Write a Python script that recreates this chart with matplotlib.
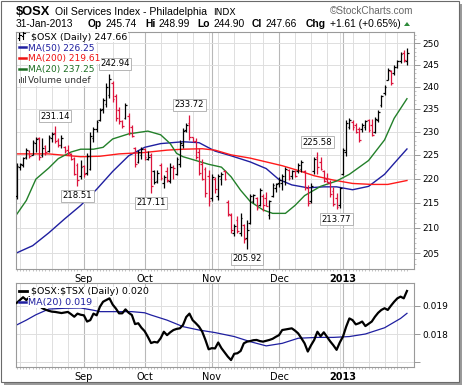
import matplotlib
matplotlib.use('Agg')
import matplotlib.pyplot as plt
from matplotlib.lines import Line2D
from matplotlib.patches import Rectangle, Polygon
from matplotlib.ticker import FixedLocator, FixedFormatter, NullFormatter
import numpy as np
import pandas as pd

plt.rcParams['font.family'] = ['DejaVu Sans']

# ---------------- data ----------------
opens = [216.5, 222.5, 222.8, 224.5, 225.9, 225.0, 227.5, 228.5, 225.0, 226.8,
         225.8, 228.5, 229.6, 228.2, 227.0, 226.7, 226.0, 225.2, 224.4, 222.8,
         220.5, 222.6, 221.2, 222.0, 228.5, 230.6, 232.5, 235.0, 236.0, 238.0,
         240.8, 237.8, 234.8, 232.4, 233.0, 233.5, 231.0, 226.5, 223.5, 225.0,
         226.3, 224.2, 225.0, 221.5, 219.5, 222.8, 219.0, 221.5, 219.5, 222.5,
         221.0, 223.0, 227.0, 230.3, 231.8, 228.8, 228.0, 225.5, 223.0, 222.0,
         220.5, 216.0, 220.0, 216.5, 220.0, 221.5, 215.2, 212.5, 209.0, 211.5,
         209.0, 210.5, 208.0, 211.0, 215.5, 216.0, 214.5, 216.5, 216.0, 212.5,
         216.5, 218.0, 219.0, 219.0, 219.5, 221.8, 220.5, 221.5, 221.5, 222.0,
         221.5, 218.0, 215.5, 221.5, 224.5, 223.5, 221.5, 220.0, 219.0, 217.5,
         216.0, 214.5, 221.0, 225.5, 231.0, 232.0, 231.5, 230.5, 230.5, 231.0,
         232.5, 231.5, 230.0, 232.5, 235.8, 238.5, 241.5, 243.5, 243.0, 244.5,
         245.8, 247.8, 245.74]
highs = [223.2, 223.2, 224.6, 226.4, 226.0, 228.2, 228.9, 228.9, 228.5, 227.1,
         229.2, 230.0, 231.14, 228.5, 229.2, 226.9, 227.1, 225.3, 224.6, 223.2,
         223.9, 222.8, 225.3, 230.0, 231.0, 232.5, 235.1, 237.5, 240.7, 242.94,
         241.2, 238.4, 235.4, 232.6, 236.4, 234.0, 231.4, 226.7, 226.0, 226.7,
         226.5, 225.8, 225.3, 221.8, 221.7, 223.2, 220.7, 222.4, 223.2, 222.8,
         224.6, 228.1, 230.7, 231.8, 233.72, 228.9, 228.5, 226.4, 224.2, 222.5,
         221.8, 221.0, 220.4, 221.0, 221.4, 221.8, 215.6, 213.0, 210.8, 212.3,
         213.0, 210.8, 211.5, 216.9, 216.9, 216.3, 218.0, 216.9, 217.3, 215.6,
         219.0, 219.0, 220.4, 221.0, 222.4, 222.1, 221.8, 221.8, 223.2, 223.9,
         221.8, 218.7, 219.0, 224.6, 225.58, 224.6, 221.8, 221.1, 219.7, 218.3,
         217.0, 218.3, 226.4, 232.5, 233.0, 232.5, 231.8, 231.0, 231.8, 232.5,
         232.8, 232.8, 233.2, 234.7, 238.1, 240.3, 244.2, 243.8, 244.9, 246.1,
         248.0, 248.4, 248.99]
lows = [215.9, 221.8, 222.5, 224.2, 224.4, 224.9, 225.6, 223.9, 224.6, 224.9,
        225.6, 227.8, 227.5, 226.7, 226.4, 225.4, 224.9, 223.9, 220.7, 218.51,
        220.0, 220.4, 220.7, 221.8, 227.8, 230.0, 232.2, 234.0, 235.5, 237.5,
        236.5, 232.2, 231.7, 230.8, 232.8, 229.2, 228.9, 222.5, 223.2, 224.2,
        224.0, 223.9, 217.11, 218.8, 219.0, 219.7, 218.0, 219.3, 219.0, 220.0,
        220.7, 222.5, 226.4, 230.0, 228.2, 227.8, 224.2, 220.7, 219.7, 216.3,
        214.3, 215.3, 217.0, 215.6, 218.7, 219.7, 212.3, 209.0, 208.3, 209.0,
        208.3, 207.0, 205.92, 210.8, 214.9, 213.6, 214.3, 213.3, 214.3, 211.7,
        216.3, 217.3, 218.3, 217.7, 218.7, 219.7, 220.0, 220.4, 221.1, 221.4,
        217.7, 214.3, 214.9, 221.0, 221.0, 221.8, 219.4, 219.0, 216.3, 214.3,
        213.77, 214.0, 220.7, 224.7, 230.5, 230.3, 229.6, 227.8, 230.0, 230.3,
        230.0, 229.0, 229.6, 232.1, 235.5, 238.1, 241.5, 240.3, 242.6, 244.2,
        245.3, 245.7, 244.90]
closes = [222.6, 223.0, 224.3, 226.0, 224.8, 227.8, 228.4, 224.5, 226.5, 225.5,
          228.8, 229.5, 228.0, 227.0, 228.6, 225.8, 225.3, 224.2, 221.0, 219.8,
          222.5, 221.0, 224.8, 229.0, 230.5, 232.0, 234.8, 237.0, 240.0, 241.8,
          237.2, 233.0, 232.3, 231.2, 235.8, 229.8, 229.0, 223.0, 225.6, 226.2,
          224.5, 224.6, 218.5, 219.2, 221.2, 220.2, 220.4, 219.8, 222.5, 222.2,
          224.2, 227.5, 230.2, 231.5, 228.8, 228.0, 224.6, 221.2, 220.0, 217.0,
          215.5, 220.3, 217.8, 220.5, 221.0, 220.0, 212.8, 209.5, 210.3, 209.3,
          212.0, 207.8, 209.5, 216.5, 216.6, 214.0, 217.6, 214.5, 214.4, 215.3,
          218.6, 218.8, 219.8, 220.5, 222.0, 220.2, 221.5, 220.6, 222.8, 223.5,
          218.3, 215.0, 218.5, 224.2, 222.5, 222.0, 219.6, 219.3, 216.8, 214.7,
          214.2, 218.0, 226.0, 231.8, 232.5, 231.0, 230.0, 228.2, 231.5, 232.2,
          230.3, 229.3, 232.8, 234.3, 237.8, 240.0, 243.8, 240.8, 244.5, 245.8,
          247.5, 246.05, 247.66]

# moving averages (sampled along the curves: bar index, value)
ma50_idx = [0, 5, 10, 15, 20, 25, 30, 35, 40, 45, 52, 57, 62, 67, 73, 78, 82, 86,
            91, 96, 100, 105, 110, 115, 118, 122]
ma50_val = [205.1, 206.5, 209.0, 211.8, 214.5, 217.8, 221.5, 224.8, 226.6, 227.4,
            227.8, 227.6, 225.8, 224.8, 223.5, 222.1, 219.8, 218.7, 218.1, 218.3,
            218.3, 217.7, 218.4, 220.9, 223.2, 226.25]
ma200_idx = [0, 10, 20, 26, 32, 40, 47, 52, 58, 62, 67, 73, 78, 83, 88, 93, 99,
             105, 111, 116, 122]
ma200_val = [225.2, 225.2, 224.6, 224.7, 225.2, 225.5, 226.0, 226.2, 226.3, 226.0,
             225.0, 224.3, 223.5, 222.7, 221.7, 220.6, 219.7, 219.0, 218.8, 218.8,
             219.61]
ma20_idx = [0, 3, 6, 10, 13, 17, 20, 24, 27, 30, 35, 41, 45, 48, 50, 52, 56, 60,
            64, 67, 70, 73, 77, 80, 84, 87, 90, 95, 100, 104, 110, 115, 118, 122]
ma20_val = [212.7, 215.5, 219.9, 222.2, 224.2, 225.6, 226.2, 226.2, 226.6, 228.4,
            229.5, 230.1, 229.3, 227.4, 225.3, 224.6, 223.8, 223.0, 222.4, 220.4,
            217.6, 215.3, 213.6, 212.9, 212.9, 214.5, 216.5, 218.4, 219.5, 220.9,
            223.8, 228.2, 232.9, 237.25]

# $OSX:$TSX ratio
ratio = [0.01910, 0.01920, 0.01930, 0.01920, 0.01930, 0.01920, 0.01910, 0.01900,
         0.01891, 0.01886, 0.01882, 0.01879, 0.01878, 0.01876, 0.01874, 0.01876,
         0.01878, 0.01870, 0.01861, 0.01872, 0.01868, 0.01866, 0.01844, 0.01849,
         0.01872, 0.01866, 0.01896, 0.01914, 0.01920, 0.01926, 0.01904, 0.01890,
         0.01873, 0.01873, 0.01887, 0.01875, 0.01867, 0.01835, 0.01838, 0.01822,
         0.01810, 0.01790, 0.01768, 0.01772, 0.01770, 0.01785, 0.01808, 0.01796,
         0.01806, 0.01814, 0.01818, 0.01820, 0.01832, 0.01860, 0.01872, 0.01849,
         0.01838, 0.01826, 0.01808, 0.01779, 0.01746, 0.01750, 0.01749, 0.01770,
         0.01750, 0.01735, 0.01720, 0.01708, 0.01730, 0.01732, 0.01740, 0.01767,
         0.01773, 0.01775, 0.01778, 0.01779, 0.01775, 0.01773, 0.01776, 0.01779,
         0.01783, 0.01790, 0.01796, 0.01814, 0.01816, 0.01818, 0.01820, 0.01812,
         0.01802, 0.01785, 0.01767, 0.01738, 0.01760, 0.01779, 0.01808, 0.01792,
         0.01806, 0.01790, 0.01774, 0.01760, 0.01744, 0.01770, 0.01791, 0.01826,
         0.01855, 0.01849, 0.01834, 0.01838, 0.01844, 0.01828, 0.01836, 0.01844,
         0.01861, 0.01875, 0.01885, 0.01891, 0.01885, 0.01900, 0.01914, 0.01926,
         0.01932, 0.01926, 0.01952]
rma_idx = [0, 3, 6, 10, 15, 20, 24, 26, 31, 36, 40, 42, 47, 52, 57, 62, 68, 73, 78,
           83, 88, 94, 99, 104, 109, 115, 120, 122]
rma_val = [0.01832, 0.01849, 0.01868, 0.01888, 0.01891, 0.01892, 0.01884, 0.01879,
           0.01879, 0.01879, 0.01875, 0.01867, 0.01849, 0.01826, 0.01814, 0.01805,
           0.01791, 0.01773, 0.01758, 0.01767, 0.01785, 0.01788, 0.01788, 0.01791,
           0.01800, 0.01822, 0.01855, 0.01873]

ann_bars = [12, 19, 29, 42, 54, 72, 94, 100]
ann_above = [True, False, True, False, True, False, True, False]

price_ticks = [205, 210, 215, 220, 225, 230, 235, 240, 245, 250]
ratio_ticks = [0.017, 0.018, 0.019]
ratio_tick_labels = ['', '0.018', '0.019']

holidays = ['2012-09-03', '2012-10-29', '2012-10-30', '2012-11-22',
            '2012-12-25', '2013-01-01', '2013-01-21']

# ---------------- layout ----------------
W, H = 464, 387
dates = pd.bdate_range('2012-08-03', '2013-01-31')
dates = dates[~dates.isin(pd.to_datetime(holidays))]
n = len(dates)
idx = np.arange(n)

month_starts = [i for i in range(1, n) if dates[i].month != dates[i - 1].month]
month_labels = [('2013' if dates[i].month == 1 else dates[i].strftime('%b'))
                for i in month_starts]
week_starts = [i for i in range(1, n)
               if dates[i].isocalendar()[1] != dates[i - 1].isocalendar()[1]]


def fx(x):
    return x / W


def fy(y):
    return 1 - y / H


fig = plt.figure(figsize=(W / 100, H / 100), dpi=100)
fig.patch.set_facecolor('white')

# outer frame with shadow
fig.add_artist(Rectangle((fx(4), fy(385)), (462 - 4) / W, (385 - 4) / H,
                         transform=fig.transFigure, fc='#9a9a9a', ec='none', zorder=-3))
fig.add_artist(Rectangle((fx(1), fy(382)), (459 - 1) / W, (382 - 1) / H,
                         transform=fig.transFigure, fc='white', ec='#6a6a6a', lw=0.8,
                         zorder=-2))

X0, X1 = -0.22, 124.2
ax1 = fig.add_axes([fx(16), fy(269), (414 - 16) / W, (269 - 31.5) / H])
ax2 = fig.add_axes([fx(16), fy(367), (414 - 16) / W, (367 - 283) / H])

grid_light = '#dedede'
grid_month = '#b8b8b8'
for ax in (ax1, ax2):
    ax.set_xlim(X0, X1)
    for i in week_starts:
        if i not in month_starts:
            ax.axvline(i, color=grid_light, lw=0.7, zorder=0)
    for i in month_starts:
        ax.axvline(i, color=grid_month, lw=0.8, zorder=0)
    for s in ax.spines.values():
        s.set_color('#9a9a9a')
        s.set_linewidth(0.8)
    ax.xaxis.set_major_locator(FixedLocator(month_starts))
    ax.xaxis.set_major_formatter(FixedFormatter(month_labels))
    ax.xaxis.set_minor_locator(FixedLocator(list(idx)))
    ax.tick_params(axis='x', which='major', length=0, labelsize=7, pad=3.5)
    ax.tick_params(axis='x', which='minor', length=1.5, width=0.5, color='#aaaaaa')
    for lbl in ax.get_xticklabels():
        if lbl.get_text() == '2013':
            lbl.set_fontweight('bold')
    ax.yaxis.tick_right()

# ---- main price panel ----
ax1.set_yscale('log')
ax1.set_ylim(202.0, 252.8)
for p in price_ticks:
    ax1.axhline(p, color=grid_light, lw=0.7, zorder=0)
ax1.yaxis.set_major_locator(FixedLocator(price_ticks))
ax1.yaxis.set_major_formatter(FixedFormatter([str(p) for p in price_ticks]))
ax1.yaxis.set_minor_locator(FixedLocator(list(range(203, 253))))
ax1.yaxis.set_minor_formatter(NullFormatter())
ax1.tick_params(axis='y', which='major', length=4, width=0.6, color='#888888',
                labelsize=6.5, pad=2)
ax1.tick_params(axis='y', which='minor', length=1.5, width=0.5, color='#aaaaaa')

ax1.plot(ma50_idx, ma50_val, color='#1f1fa0', lw=1.0, zorder=2)
ax1.plot(ma200_idx, ma200_val, color='#ff1a1a', lw=1.0, zorder=2)
ax1.plot(ma20_idx, ma20_val, color='#23802a', lw=1.0, zorder=2)

cols = ['#000000']
for i in range(1, n):
    cols.append('#000000' if closes[i] >= closes[i - 1] else '#dc143c')
ax1.vlines(idx, lows, highs, colors=cols, lw=0.9, zorder=3)
ax1.hlines(opens, idx - 0.55, idx, colors=cols, lw=0.9, zorder=3)
ax1.hlines(closes, idx, idx + 0.55, colors=cols, lw=0.9, zorder=3)

for b, up in zip(ann_bars, ann_above):
    v = highs[b] if up else lows[b]
    dx = 4 if b == 29 else 0
    ax1.annotate('%.2f' % v, xy=(b, v), xytext=(dx, 4 if up else -4),
                 textcoords='offset points', ha='center',
                 va='bottom' if up else 'top', fontsize=6.1, zorder=6,
                 bbox=dict(boxstyle='square,pad=0.18', fc='white', ec='#aaaaaa', lw=0.6))

# ---- ratio panel ----
ax2.set_ylim(0.016834, 0.019802)
for p in ratio_ticks:
    ax2.axhline(p, color=grid_light, lw=0.7, zorder=0)
ax2.yaxis.set_major_locator(FixedLocator(ratio_ticks))
ax2.yaxis.set_major_formatter(FixedFormatter(ratio_tick_labels))
ax2.tick_params(axis='y', which='major', length=4, width=0.6, color='#888888',
                labelsize=6.5, pad=2)
ax2.plot(rma_idx, rma_val, color='#1f1fa0', lw=0.9, zorder=2)
ax2.plot(idx, ratio, color='#000000', lw=1.6, zorder=3)

# ---------------- header texts ----------------
fig.text(fx(16), fy(15), r'\$OSX', fontsize=9.3, fontweight='bold',
         family='Liberation Sans', va='baseline')
fig.text(fx(55), fy(14.8), 'Oil Services Index - Philadelphia', fontsize=7.6,
         family='Liberation Sans', va='baseline')
fig.text(fx(213), fy(14.8), 'INDX', fontsize=6.6, family='DejaVu Sans', va='baseline')
fig.text(fx(413), fy(14.5), '\u00a9StockCharts.com', fontsize=7.2, color='#666666',
         family='Liberation Sans', va='baseline', ha='right')

line2 = [(16, '31-Jan-2013', 'normal'), (88, 'Op', 'bold'), (106, '245.74', 'normal'),
         (145, 'Hi', 'bold'), (159, '248.99', 'normal'), (197, 'Lo', 'bold'),
         (214, '244.90', 'normal'), (252, 'Cl', 'bold'), (266, '247.66', 'normal'),
         (306, 'Chg', 'bold'), (330, '+1.61 (+0.65%)', 'normal')]
for x, t, w in line2:
    fig.text(fx(x), fy(26.8), t, fontsize=7.4, fontweight=w,
             family='Liberation Sans', va='baseline')
fig.add_artist(Polygon([[fx(404), fy(26)], [fx(410), fy(26)], [fx(407), fy(22)]],
                       closed=True, transform=fig.transFigure, fc='#2e8b3a', ec='none'))

# ---------------- legends ----------------
bb = dict(fc='white', ec='none', pad=0.4)
leg_font = 6.5
fig.text(fx(31), fy(39.5), r'\$OSX (Daily) 247.66', fontsize=6.8, va='baseline',
         color='black', bbox=bb, zorder=5)
# small ohlc icon
for xs, ys in [([19.5, 19.5], [33, 40]), ([18, 19.5], [38, 38]), ([19.5, 21], [35, 35]),
               ([23.5, 23.5], [32, 39]), ([22, 23.5], [36, 36]), ([23.5, 25], [33, 33])]:
    fig.add_artist(Line2D([fx(v) for v in xs], [fy(v) for v in ys], color='black',
                          lw=0.8, transform=fig.transFigure, zorder=6))

leg_rows = [(50.5, 'MA(50) 226.25', '#1f1fa0'), (61.0, 'MA(200) 219.61', '#ee1111'),
            (72.0, 'MA(20) 237.25', '#1d6e23')]
for y, t, c in leg_rows:
    fig.text(fx(28.5), fy(y), t, fontsize=leg_font, va='baseline', color=c,
             bbox=bb, zorder=5)
    fig.add_artist(Line2D([fx(19), fx(26.5)], [fy(y - 3.5), fy(y - 3.5)], color=c, lw=1.8,
                          transform=fig.transFigure, zorder=6))
fig.text(fx(28.5), fy(83), 'Volume undef', fontsize=leg_font, va='baseline',
         color='#333333', bbox=bb, zorder=5)
for k, hgt in enumerate([4, 6, 5, 7]):
    fig.add_artist(Rectangle((fx(19 + k * 2), fy(83)), 1.4 / W, hgt / H,
                             transform=fig.transFigure, fc='#555555', ec='none',
                             zorder=6))

fig.text(fx(31), fy(294.2), r'\$OSX:\$TSX (Daily) 0.020', fontsize=6.8,
         va='baseline', color='black', bbox=bb, zorder=5)
fig.add_artist(Line2D([fx(19), fx(27)], [fy(290.5), fy(290.5)], color='black', lw=2.0,
                      transform=fig.transFigure, zorder=6))
fig.text(fx(28.5), fy(305), 'MA(20) 0.019', fontsize=6.8, va='baseline',
         color='#1f1fa0', bbox=bb, zorder=5)
fig.add_artist(Line2D([fx(19), fx(26.5)], [fy(301.5), fy(301.5)], color='#1f1fa0',
                      lw=1.8, transform=fig.transFigure, zorder=6))

fig.savefig('out.png', dpi=100, facecolor='white')
